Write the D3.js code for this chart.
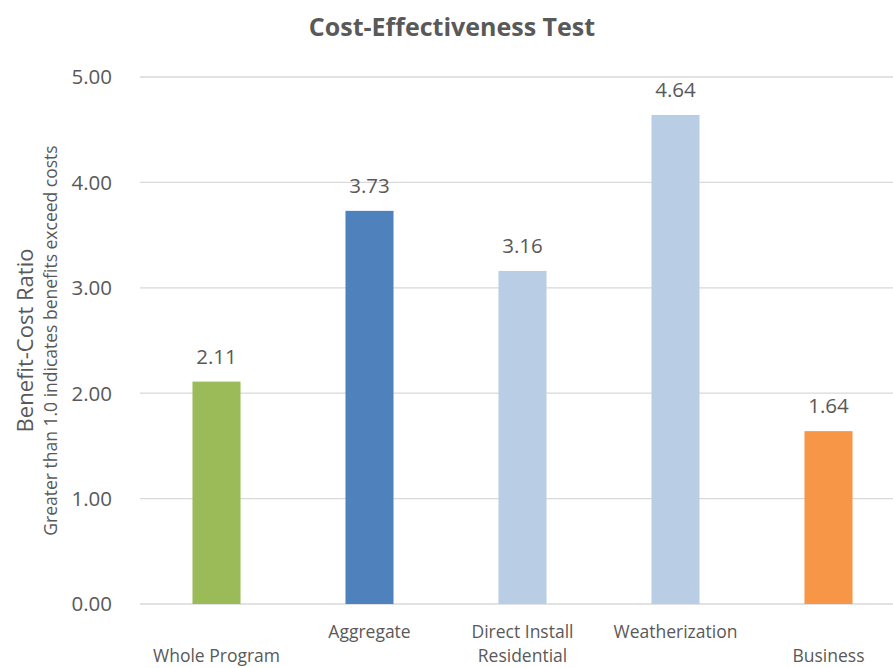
<!DOCTYPE html>
<html>
<head>
<meta charset="utf-8">
<script src="https://cdn.jsdelivr.net/npm/d3@7"></script>
<style>
  body { margin: 0; background: #fff; }
  text { font-family: "Open Sans", sans-serif; fill: #595959; }
</style>
</head>
<body>
<div id="chart"></div>
<script>
// data
var categories = ["Whole Program", "Aggregate", "Direct Install Residential", "Weatherization", "Business"];
var ratios = [2.11, 3.73, 3.16, 4.64, 1.64];
var barColors = ["#9BBB59", "#4F81BD", "#B9CDE5", "#B9CDE5", "#F79646"];
// tick label lines (first line sits high, second line low, like the original)
var tickLines = [["", "Whole Program"], ["Aggregate"], ["Direct Install", "Residential"], ["Weatherization"], ["", "Business"]];
var yTicks = [0, 1, 2, 3, 4, 5];

var W = 893, H = 668;
var margin = { top: 77, right: -12, bottom: 64, left: 140 },
    width = W - margin.left - margin.right,
    height = H - margin.top - margin.bottom;

var svg = d3.select("#chart").append("svg")
    .attr("width", W).attr("height", H);

var g = svg.append("g")
    .attr("transform", "translate(" + margin.left + "," + margin.top + ")");

var x = d3.scaleBand().domain(categories).range([0, width]).paddingInner(0.686).paddingOuter(0.343);
var y = d3.scaleLinear().domain([0, 5]).range([height, 0]);

// grid
g.selectAll(".grid").data(yTicks).enter().append("line")
    .attr("x1", 0).attr("x2", width)
    .attr("y1", d => y(d)).attr("y2", d => y(d))
    .attr("stroke", "#D9D9D9").attr("stroke-width", 1.3);

// y tick labels
g.selectAll(".ytick").data(yTicks).enter().append("text")
    .attr("x", -28).attr("y", d => y(d)).attr("dy", "0.36em")
    .attr("text-anchor", "end").attr("font-size", "20.5px")
    .text(d => d.toFixed(2));

// bars
g.selectAll(".bar").data(categories).enter().append("rect")
    .attr("x", d => x(d)).attr("width", x.bandwidth())
    .attr("y", (d, i) => y(ratios[i]))
    .attr("height", (d, i) => height - y(ratios[i]))
    .attr("fill", (d, i) => barColors[i]);

// value labels
g.selectAll(".val").data(categories).enter().append("text")
    .attr("x", d => x(d) + x.bandwidth() / 2)
    .attr("y", (d, i) => y(ratios[i]) - 18)
    .attr("text-anchor", "middle").attr("font-size", "20.5px")
    .text((d, i) => ratios[i].toFixed(2));

// x labels
categories.forEach(function (c, i) {
    tickLines[i].forEach(function (line, j) {
        g.append("text")
            .attr("x", x(c) + x.bandwidth() / 2)
            .attr("y", height + 34 + j * 24)
            .attr("text-anchor", "middle").attr("font-size", "17.5px")
            .text(line);
    });
});

// title
svg.append("text")
    .attr("x", 452).attr("y", 36)
    .attr("text-anchor", "middle").attr("font-size", "25px").attr("font-weight", "bold")
    .text("Cost-Effectiveness Test");

// y axis titles
svg.append("text")
    .attr("transform", "translate(33," + (margin.top + height / 2) + ") rotate(-90)")
    .attr("text-anchor", "middle").attr("font-size", "22px")
    .text("Benefit-Cost Ratio");
svg.append("text")
    .attr("transform", "translate(57," + (margin.top + height / 2) + ") rotate(-90)")
    .attr("text-anchor", "middle").attr("font-size", "17.5px")
    .text("Greater than 1.0 indicates benefits exceed costs");
</script>
</body>
</html>
